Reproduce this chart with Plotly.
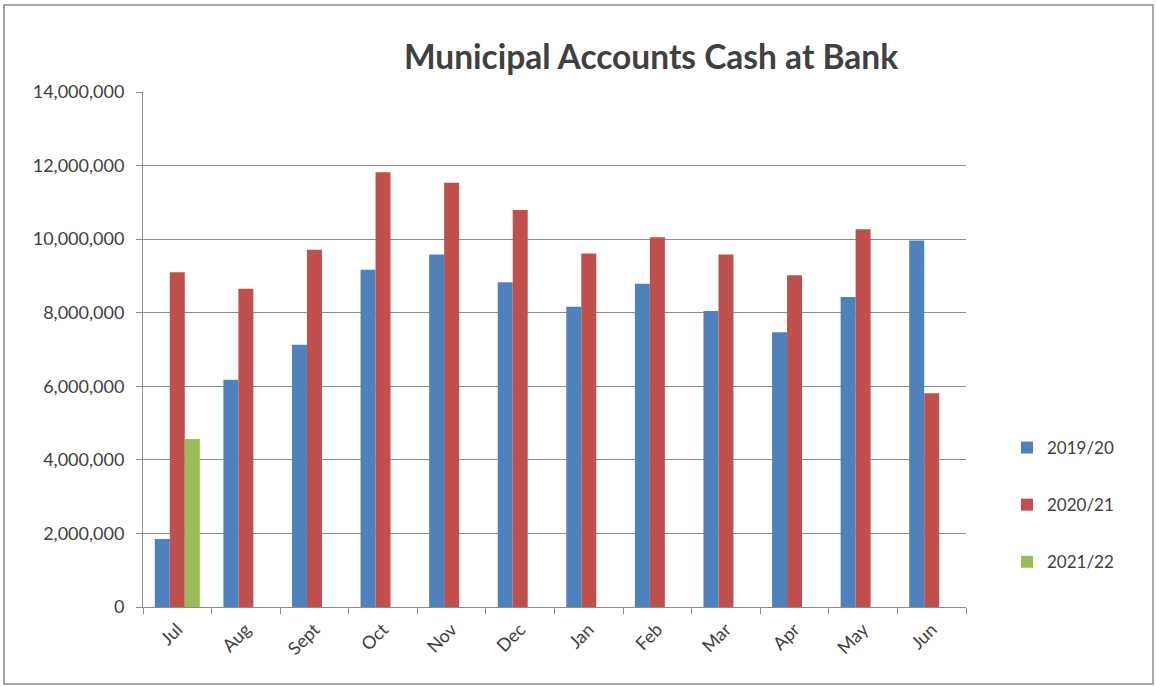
import plotly.graph_objects as go

# Monthly cash at bank balances by financial year
months = ["Jul", "Aug", "Sept", "Oct", "Nov", "Dec", "Jan", "Feb", "Mar", "Apr", "May", "Jun"]
fy_2019_20 = [1850000, 6180000, 7130000, 9170000, 9580000, 8830000,
              8160000, 8790000, 8050000, 7470000, 8430000, 9960000]
fy_2020_21 = [9100000, 8650000, 9710000, 11820000, 11530000, 10790000,
              9610000, 10050000, 9580000, 9020000, 10270000, 5810000]
fy_2021_22 = [4570000]
y_ticks = [0, 2000000, 4000000, 6000000, 8000000, 10000000, 12000000, 14000000]

series = [
    ("2019/20", months, fy_2019_20, "#4F81BD"),
    ("2020/21", months, fy_2020_21, "#C0504D"),
    ("2021/22", months[:len(fy_2021_22)], fy_2021_22, "#9BBB59"),
]

FONT = "Lato, Carlito, Calibri, sans-serif"
TEXT = "#404040"
GRID = "#8C8C8C"

fig = go.Figure()
for name, x, y, color in series:
    fig.add_trace(go.Bar(name=name, x=x, y=y, marker_color=color,
                         marker_line_width=0, legendgroup=name))

W, H = 1156, 686
ml, mr, mt, mb = 143, 190, 92, 79
pw, ph = W - ml - mr, H - mt - mb

def px_x(p):
    return (p - ml) / pw

def px_y(p):
    return 1 - (p - mt) / ph

fig.update_layout(
    width=W, height=H,
    margin=dict(l=ml, r=mr, t=mt, b=mb),
    paper_bgcolor="white", plot_bgcolor="white",
    barmode="group", bargap=0.344, bargroupgap=0,
    font=dict(family=FONT, color=TEXT, size=17),
    title=dict(text="<b>Municipal Accounts Cash at Bank</b>",
               x=651 / W, xanchor="center", y=1 - 57 / H, yanchor="middle",
               font=dict(family=FONT, size=33.5, color=TEXT)),
    legend=dict(x=px_x(1007), xanchor="left", y=px_y(430), yanchor="top",
                font=dict(family=FONT, size=17, color=TEXT),
                tracegroupgap=32, itemwidth=30, bgcolor="rgba(0,0,0,0)"),
    showlegend=True,
    shapes=[dict(type="rect", xref="paper", yref="paper",
                 x0=px_x(4), x1=px_x(1153), y0=px_y(684), y1=px_y(5),
                 line=dict(color="#8A8A8A", width=1.5), layer="below")],
)

fig.update_xaxes(
    type="category", categoryorder="array", categoryarray=months,
    showline=True, linecolor=GRID, linewidth=1,
    ticks="outside", tickson="boundaries", ticklen=6, tickcolor=GRID,
    tickangle=-45, tickfont=dict(family=FONT, size=18, color=TEXT),
    ticklabelstandoff=4,
    showgrid=False,
)
fig.update_yaxes(
    range=[0, 14000000], tickvals=y_ticks,
    ticktext=[f"{v:,}" for v in y_ticks],
    showline=True, linecolor=GRID, linewidth=1,
    ticks="outside", ticklen=6, tickcolor=GRID,
    ticklabelstandoff=8,
    showgrid=True, gridcolor=GRID, gridwidth=1,
    tickfont=dict(family=FONT, size=18, color=TEXT),
    zeroline=False,
)

fig.write_html("out.html")
